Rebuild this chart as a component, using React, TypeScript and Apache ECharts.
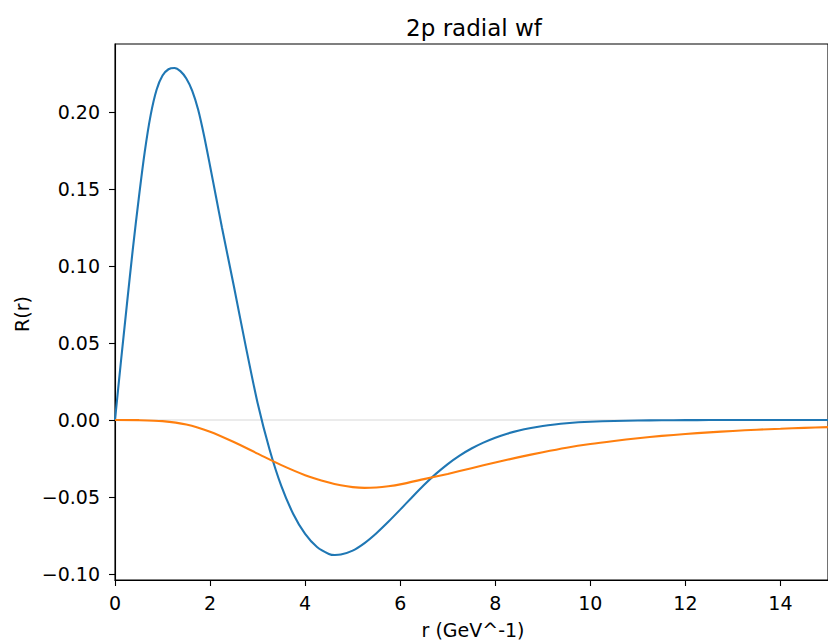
import React, { useEffect, useRef } from "react";
import * as echarts from "echarts";

const TITLE = "2p radial wf";
const X_NAME = "r (GeV^-1)";
const Y_NAME = "R(r)";

const X_TICKS = [0, 2, 4, 6, 8, 10, 12, 14];
const Y_TICKS = [-0.1, -0.05, 0, 0.05, 0.1, 0.15, 0.2];

const BLUE_X = [0, 0.125, 0.25, 0.375, 0.5, 0.625, 0.75, 0.875, 1.0, 1.125, 1.25, 1.375, 1.5, 1.625, 1.75, 1.875, 2.0, 2.125, 2.25, 2.5, 2.75, 3.0, 3.25, 3.5, 3.75, 4.0, 4.25, 4.5, 4.625, 4.75, 5.0, 5.25, 5.5, 5.75, 6.0, 6.25, 6.5, 6.75, 7.0, 7.25, 7.5, 7.75, 8.0, 8.25, 8.5, 8.75, 9.0, 9.25, 9.5, 9.75, 10, 10.5, 11, 11.5, 12, 12.5, 13, 13.5, 14, 14.5, 15];
const BLUE_Y = [0, 0.038, 0.075, 0.111, 0.144, 0.174, 0.198, 0.2145, 0.2237, 0.2278, 0.2286, 0.2266, 0.2218, 0.2138, 0.2015, 0.1845, 0.165, 0.145, 0.125, 0.087, 0.048, 0.011, -0.019, -0.043, -0.061, -0.074, -0.0825, -0.087, -0.0877, -0.0874, -0.0848, -0.0799, -0.0735, -0.0661, -0.0582, -0.0501, -0.0422, -0.035, -0.0286, -0.0231, -0.0185, -0.0147, -0.0115, -0.0089, -0.0068, -0.0052, -0.0039, -0.0029, -0.0021, -0.0015, -0.0011, -0.0006, -0.0003, -0.0002, -0.0001, 0, 0, 0, 0, 0, 0];

const ORANGE_X = [0, 0.5, 1.0, 1.5, 2.0, 2.5, 3.0, 3.5, 4.0, 4.5, 4.75, 5.0, 5.25, 5.5, 5.75, 6.0, 6.5, 7.0, 7.5, 8.0, 8.5, 9.0, 9.5, 10.0, 10.5, 11.0, 11.5, 12.0, 12.5, 13.0, 13.5, 14.0, 14.5, 15.0];
const ORANGE_Y = [0, -0.0001, -0.0007, -0.0029, -0.0076, -0.0143, -0.0218, -0.0293, -0.0358, -0.0406, -0.0424, -0.0436, -0.0441, -0.0438, -0.0430, -0.0418, -0.0384, -0.035, -0.0313, -0.0276, -0.0241, -0.0209, -0.018, -0.0156, -0.0136, -0.0118, -0.0103, -0.0091, -0.008, -0.0071, -0.0063, -0.0057, -0.0051, -0.0046];

const X_MIN = 0;
const X_MAX = 15;
const Y_MIN = -0.1039;
const Y_MAX = 0.2442;

const FONT = "DejaVu Sans";

export default function App() {
  const ref = useRef<HTMLDivElement>(null);
  useEffect(() => {
    if (!ref.current) return;
    const chart = echarts.init(ref.current, null, { renderer: "svg" });
    const fmtY = (v: number) => {
      const s = Math.abs(v).toFixed(2);
      return v < -1e-9 ? "\u2212" + s : s;
    };
    chart.setOption({
      animation: false,
      backgroundColor: "#ffffff",
      textStyle: { fontFamily: FONT },
      grid: {
        left: 115,
        top: 44,
        right: -5,
        bottom: 61,
        show: true,
        borderColor: "#000",
        borderWidth: 1.1,
        backgroundColor: "transparent",
      },
      graphic: [
        {
          type: "text",
          x: 474,
          y: 28,
          style: {
            text: TITLE,
            fill: "#000",
            font: `23px "${FONT}"`,
            textAlign: "center",
            textVerticalAlign: "middle",
          },
        },
        {
          type: "text",
          x: 473,
          y: 630,
          style: {
            text: X_NAME,
            fill: "#000",
            font: `19px "${FONT}"`,
            textAlign: "center",
            textVerticalAlign: "middle",
          },
        },
        {
          type: "text",
          x: 22,
          y: 314,
          rotation: Math.PI / 2,
          style: {
            text: Y_NAME,
            fill: "#000",
            font: `19px "${FONT}"`,
            textAlign: "center",
            textVerticalAlign: "middle",
          },
        },
      ],
      xAxis: {
        type: "value",
        min: X_MIN,
        max: X_MAX,
        axisLine: { show: true, onZero: false, lineStyle: { color: "#000", width: 1.1 } },
        axisTick: { show: true, length: 6, lineStyle: { color: "#000", width: 1.1 }, customValues: X_TICKS },
        axisLabel: {
          customValues: X_TICKS,
          color: "#000",
          fontSize: 19,
          fontFamily: FONT,
          margin: 13,
        },
        splitLine: { show: false },
      },
      yAxis: {
        type: "value",
        min: Y_MIN,
        max: Y_MAX,
        axisLine: { show: true, onZero: false, lineStyle: { color: "#000", width: 1.1 } },
        axisTick: { show: true, length: 6, lineStyle: { color: "#000", width: 1.1 }, customValues: Y_TICKS },
        axisLabel: {
          customValues: Y_TICKS,
          color: "#000",
          fontSize: 19,
          fontFamily: FONT,
          margin: 15,
          formatter: fmtY,
        },
        splitLine: { show: false },
      },
      series: [
        {
          type: "line",
          data: BLUE_X.map((x, i) => [x, BLUE_Y[i]]),
          showSymbol: false,
          smooth: 0.25,
          lineStyle: { color: "#1f77b4", width: 2.1 },
          itemStyle: { color: "#1f77b4" },
          z: 3,
          markLine: {
            silent: true,
            symbol: "none",
            label: { show: false },
            lineStyle: { color: "#ebebeb", width: 2, type: "solid" },
            data: [{ yAxis: 0 }],
            z: 1,
          },
        },
        {
          type: "line",
          data: ORANGE_X.map((x, i) => [x, ORANGE_Y[i]]),
          showSymbol: false,
          smooth: 0.25,
          lineStyle: { color: "#ff7f0e", width: 2.1 },
          itemStyle: { color: "#ff7f0e" },
          z: 4,
        },
      ],
    });
    return () => chart.dispose();
  }, []);
  return (
    <div
      ref={ref}
      style={{ position: "absolute", left: 0, top: 0, width: 828, height: 641 }}
    />
  );
}
